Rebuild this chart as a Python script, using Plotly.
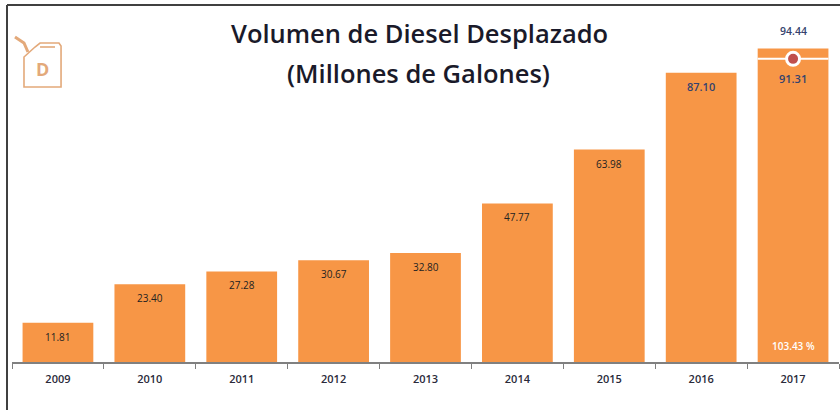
#!/usr/bin/env python3
# coding=utf-8
import plotly.graph_objs as go

years = ['2009', '2010', '2011', '2012', '2013', '2014', '2015', '2016', '2017']
volumes = [11.81, 23.40, 27.28, 30.67, 32.80, 47.77, 63.98, 87.10, 94.44]
labels = ['11.81', '23.40', '27.28', '30.67', '32.80', '47.77', '63.98', '87.10']
goal_year = ['2017']
goal_value = [91.31]
goal_text = ['91.31']
top_text = ['94.44']
percent_text = ['103.43 %']

W = 840
H = 410
LEFT = 12
RIGHT = 1
TOP = 30
BOTTOM = 48
ORANGE = '#F79646'
NAVY = '#34426E'
ICON = '#E3A97A'
FONT = 'Open Sans'


# the frame and the icon are placed in pixels, paper coords are fractions of the plot area
def px(x):
    return (x - LEFT) / (W - LEFT - RIGHT)


def py(y):
    return 1 - (y - TOP) / (H - TOP - BOTTOM)


def path(points, close=False):
    s = ' '.join('{}{:.4f},{:.4f}'.format('L' if i else 'M', px(x), py(y)) for i, (x, y) in enumerate(points))
    return s + (' Z' if close else '')


goal_pos = years.index(goal_year[0])

bars = go.Bar(
    x=years,
    y=volumes,
    width=0.77,
    marker=dict(color=ORANGE, line=dict(width=0)),
    hoverinfo='x+y'
)

# white line + dot for the 2017 goal, error bars only work on a linear axis so it gets its own
goal = go.Scatter(
    x=[goal_pos],
    y=goal_value,
    xaxis='x2',
    mode='markers',
    marker=dict(size=13, color='#C0504D', line=dict(color='white', width=3)),
    error_x=dict(type='constant', value=0.385, color='white', thickness=2, width=0)
)

layout = go.Layout(
    width=W,
    height=H,
    autosize=False,
    showlegend=False,
    paper_bgcolor='white',
    plot_bgcolor='white',
    margin=dict(l=LEFT, r=RIGHT, t=TOP, b=BOTTOM),
    font=dict(family=FONT, color='#222222'),
    xaxis=dict(
        type='category',
        range=[-0.5, 8.5],
        showline=True,
        linecolor='#808080',
        linewidth=2,
        ticks='outside',
        tickson='boundaries',
        ticklen=5,
        tickcolor='#808080',
        tickwidth=1,
        tickfont=dict(size=11, color='#2A2A3A', weight=600),
        ticklabelstandoff=6,
        showgrid=False
    ),
    xaxis2=dict(type='linear', range=[-0.5, 8.5], overlaying='x', visible=False),
    yaxis=dict(range=[0, 100], showticklabels=False, ticks='', showline=False, showgrid=False, zeroline=False),
    bargap=0.23
)

fig = go.Figure(data=[bars, goal], layout=layout)

# value labels under the top of each bar, annotations on a category axis want the index
for i, (year, value, text) in enumerate(zip(years, volumes, labels)):
    navy = year == '2016'
    fig.add_annotation(x=i, y=value, text=text, showarrow=False, yshift=-14,
                       font=dict(size=11 if navy else 10, color=NAVY if navy else '#222222', weight=600 if navy else 400))

fig.add_annotation(x=goal_pos, y=goal_value[0], text=goal_text[0], showarrow=False, yshift=-20,
                   font=dict(size=11, color=NAVY, weight=600))
fig.add_annotation(x=goal_pos, y=volumes[-1], text=top_text[0], showarrow=False, yshift=17,
                   font=dict(size=10.5, color=NAVY, weight=600))
fig.add_annotation(x=goal_pos, y=0, text=percent_text[0], showarrow=False, yshift=16,
                   font=dict(size=10, color='white', weight=600))

# title
fig.add_annotation(xref='paper', yref='paper', x=px(419), y=py(33), yanchor='middle', xanchor='center',
                   text='Volumen de Diesel Desplazado', showarrow=False,
                   font=dict(size=25.5, color='#1A1A2A', weight=600))
fig.add_annotation(xref='paper', yref='paper', x=px(418), y=py(73), yanchor='middle', xanchor='center',
                   text='(Millones de Galones)', showarrow=False,
                   font=dict(size=25.5, color='#1A1A2A', weight=600))

# frame
frame = dict(color='#404040', width=2)
fig.add_shape(type='line', xref='paper', yref='paper', x0=px(7), x1=px(7), y0=py(5), y1=py(410), line=frame)
fig.add_shape(type='line', xref='paper', yref='paper', x0=px(7), x1=px(840), y0=py(5), y1=py(5), line=frame)

# jerry can icon
icon = dict(color=ICON, width=1.6)
fig.add_shape(type='path', xref='paper', yref='paper', line=icon, path=path(
    [(24, 60), (24, 57), (35, 47), (40, 43), (59, 43), (61, 46), (61, 87), (24, 87)], close=True))
fig.add_shape(type='path', xref='paper', yref='paper', line=icon, path=path(
    [(40, 47), (55, 47)]))
fig.add_shape(type='path', xref='paper', yref='paper', line=dict(color=ICON, width=3), path=path(
    [(28, 52), (24, 43), (15, 37)]))
fig.add_annotation(xref='paper', yref='paper', x=px(42), y=py(69), yanchor='middle', xanchor='center',
                   text='<b>D</b>', showarrow=False, font=dict(size=18, color=ICON))

# the page margin would push the chart 8px off
fig.write_html('out.html', post_script="document.body.style.margin='0';",
               config=dict(displayModeBar=False))
